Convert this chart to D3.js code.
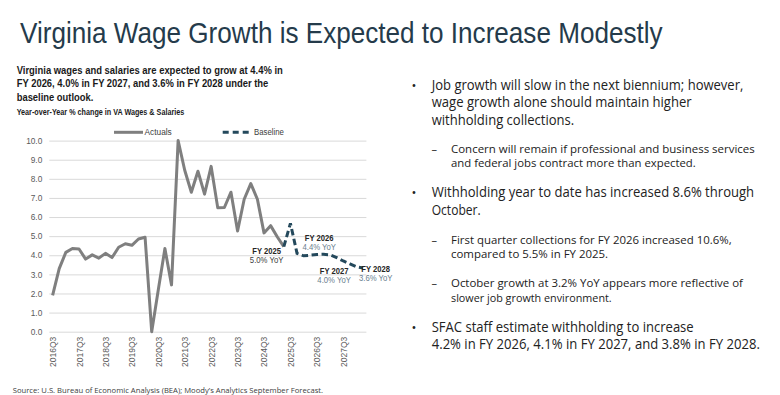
<!DOCTYPE html>
<html>
<head>
<meta charset="utf-8">
<script src="https://cdn.jsdelivr.net/npm/d3@7"></script>
<style>
  html, body { margin: 0; padding: 0; background: #fff; }
  svg { display: block; }
</style>
</head>
<body>
<svg id="chart" width="780" height="395"></svg>
<script>
// ---------------- DATA ----------------
const quarters = [
  "2016Q3","2016Q4","2017Q1","2017Q2","2017Q3","2017Q4","2018Q1","2018Q2",
  "2018Q3","2018Q4","2019Q1","2019Q2","2019Q3","2019Q4","2020Q1","2020Q2",
  "2020Q3","2020Q4","2021Q1","2021Q2","2021Q3","2021Q4","2022Q1","2022Q2",
  "2022Q3","2022Q4","2023Q1","2023Q2","2023Q3","2023Q4","2024Q1","2024Q2",
  "2024Q3","2024Q4","2025Q1","2025Q2","2025Q3","2025Q4","2026Q1","2026Q2",
  "2026Q3","2026Q4","2027Q1","2027Q2","2027Q3","2027Q4","2028Q1","2028Q2"
];
// Actuals: 2016Q3 .. 2025Q2
const actualQuarters = quarters.slice(0, 36);
const actualValues = [
  1.9, 3.3, 4.15, 4.35, 4.33, 3.8, 4.02, 3.85,
  4.1, 3.88, 4.42, 4.6, 4.52, 4.85, 4.94, 0.0,
  2.2, 4.35, 2.45, 10.0, 8.45, 7.3, 8.4, 7.2,
  8.65, 6.48, 6.5, 7.3, 5.27, 6.93, 7.75, 6.93,
  5.17, 5.55, 4.97, 4.45
];
// Baseline forecast: 2025Q2 .. 2028Q2
const baselineQuarters = quarters.slice(35);
const baselineValues = [
  4.45, 5.67, 4.1, 3.97, 4.0, 4.04, 4.05, 4.02, 3.88, 3.7, 3.55, 3.4, 3.33
];
const yTicks = [0,1,2,3,4,5,6,7,8,9,10];
const xTickLabels = ["2016Q3","2017Q3","2018Q3","2019Q3","2020Q3","2021Q3",
  "2022Q3","2023Q3","2024Q3","2025Q3","2026Q3","2027Q3"];
const annotations = [
  {fy: "FY 2025", yoy: "5.0% YoY", muted: false},
  {fy: "FY 2026", yoy: "4.4% YoY", muted: true},
  {fy: "FY 2027", yoy: "4.0% YoY", muted: true},
  {fy: "FY 2028", yoy: "3.6% YoY", muted: true}
];
const legendItems = ["Actuals", "Baseline"];

const titleText = "Virginia Wage Growth is Expected to Increase Modestly";
const subtitleLines = [
  "Virginia wages and salaries are expected to grow at 4.4% in",
  "FY 2026, 4.0% in FY 2027, and 3.6% in FY 2028 under the",
  "baseline outlook."
];
const axisTitle = "Year-over-Year % change in VA Wages & Salaries";
const sourceText = "Source: U.S. Bureau of Economic Analysis (BEA); Moody\u2019s Analytics September Forecast.";
const bullets = [
  {level: 1, lines: ["Job growth will slow in the next biennium; however,",
                     "wage growth alone should maintain higher",
                     "withholding collections."]},
  {level: 2, lines: ["Concern will remain if professional and business services",
                     "and federal jobs contract more than expected."]},
  {level: 1, lines: ["Withholding year to date has increased 8.6% through",
                     "October."]},
  {level: 2, lines: ["First quarter collections for FY 2026 increased 10.6%,",
                     "compared to 5.5% in FY 2025."]},
  {level: 2, lines: ["October growth at 3.2% YoY appears more reflective of",
                     "slower job growth environment."]},
  {level: 1, lines: ["SFAC staff estimate withholding to increase",
                     "4.2% in FY 2026, 4.1% in FY 2027, and 3.8% in FY 2028."]}
];

// ---------------- LAYOUT ----------------
const svg = d3.select("#chart");
const ARIAL = "'Liberation Sans', Arial, sans-serif";
const OPEN = "'Open Sans', 'Noto Sans', sans-serif";

svg.append("rect").attr("width", 780).attr("height", 395).attr("fill", "#fff");

// text helper: if a target width is given, the text is scaled horizontally to fit it
function txt(s, x, y, o) {
  const t = svg.append("text")
    .attr("x", 0).attr("y", 0)
    .attr("font-family", o.family || ARIAL)
    .attr("font-size", o.size)
    .attr("font-weight", o.weight || "normal")
    .attr("fill", o.fill || "#262626")
    .attr("text-anchor", o.anchor || "start")
    .text(s);
  let k = 1;
  if (o.width) {
    const len = t.node().getComputedTextLength();
    if (len > 0) k = o.width / len;
  }
  t.attr("transform", `translate(${x},${y}) scale(${k},1)`);
  return t;
}

// Title
txt(titleText, 20, 43, {size: 29, fill: "#253b4b", width: 643});

// Chart subtitle
const subW = [266.7, 251.7, 76.7];
const subY = [73.5, 87.3, 100.8];
subtitleLines.forEach((l, i) => txt(l, 16.7, subY[i], {size: 10.5, weight: "bold", fill: "#1a1a1a", width: subW[i]}));
txt(axisTitle, 16.7, 114.5, {size: 8.3, weight: "bold", fill: "#1a1a1a", width: 167.7});

// Scales
const x = d3.scalePoint().domain(quarters).range([49.3, 366.4]).padding(0.5);
const y = d3.scaleLinear().domain([0, 10]).range([331.7, 140.6]);

// Y axis with gridlines
const yAxis = svg.append("g")
  .attr("transform", "translate(49.3,0)")
  .call(d3.axisLeft(y).tickValues(yTicks).tickFormat(d3.format(".1f"))
        .tickSize(-(366.4 - 49.3)).tickPadding(7));
yAxis.select(".domain").remove();
yAxis.selectAll(".tick line").attr("stroke", "#d9d9d9").attr("stroke-width", 1);
yAxis.selectAll(".tick text").attr("font-family", ARIAL).attr("font-size", 8.3).attr("fill", "#595959");

// X axis labels
const xAxis = svg.append("g")
  .attr("transform", `translate(0,${y(0)})`)
  .call(d3.axisBottom(x).tickValues(xTickLabels).tickSize(0));
xAxis.select(".domain").remove();
xAxis.selectAll(".tick text")
  .attr("font-family", ARIAL).attr("font-size", 8.5).attr("fill", "#595959")
  .attr("transform", "rotate(-90)")
  .attr("text-anchor", "end")
  .attr("x", -5).attr("y", 0).attr("dy", "0.35em");

// Lines
const lineGen = d3.line().x(d => x(d[0])).y(d => y(d[1]));
svg.append("path")
  .datum(actualQuarters.map((q, i) => [q, actualValues[i]]))
  .attr("d", lineGen)
  .attr("fill", "none").attr("stroke", "#7f7f7f").attr("stroke-width", 3)
  .attr("stroke-linejoin", "round");
svg.append("path")
  .datum(baselineQuarters.map((q, i) => [q, baselineValues[i]]))
  .attr("d", lineGen)
  .attr("fill", "none").attr("stroke", "#24495c").attr("stroke-width", 3)
  .attr("stroke-dasharray", "6.5,3.5");

// Legend
svg.append("line").attr("x1", 114).attr("x2", 143).attr("y1", 132.3).attr("y2", 132.3)
  .attr("stroke", "#7f7f7f").attr("stroke-width", 3);
txt(legendItems[0], 144.5, 135.3, {size: 9, fill: "#404040", width: 27.3});
svg.append("line").attr("x1", 222.7).attr("x2", 249.5).attr("y1", 132.3).attr("y2", 132.3)
  .attr("stroke", "#24495c").attr("stroke-width", 3).attr("stroke-dasharray", "6,4");
txt(legendItems[1], 254, 135.3, {size: 9, fill: "#404040", width: 30});

// Annotations
const annPos = [
  {cx: 266.6, fyY: 254, yoyY: 263.3},
  {cx: 319.2, fyY: 240.7, yoyY: 250},
  {cx: 334.1, fyY: 274.3, yoyY: 283.3},
  {cx: 375.7, fyY: 272, yoyY: 281}
];
annotations.forEach((a, i) => {
  const p = annPos[i];
  txt(a.fy, p.cx, p.fyY, {size: 8.2, weight: "bold", fill: "#262626", anchor: "middle", width: 28.7});
  txt(a.yoy, p.cx, p.yoyY, {size: 8.2, fill: a.muted ? "#6a7e8e" : "#404040", anchor: "middle", width: 33.5});
});

// Source
txt(sourceText, 12.7, 393, {size: 8, family: OPEN, fill: "#404040", width: 310.7});

// Right-hand bullets
const bulletLayout = [
  {ys: [89.8, 107.3, 125], ws: [311.7, 260, 142.7]},
  {ys: [152.7, 166.7], ws: [304, 245]},
  {ys: [197.3, 215], ws: [322.7, 49]},
  {ys: [244, 258.3], ws: [280.7, 157.3]},
  {ys: [286.7, 301.7], ws: [292.3, 160.7]},
  {ys: [332.3, 349], ws: [262.3, 328.3]}
];
bullets.forEach((b, i) => {
  const L = bulletLayout[i];
  if (b.level === 1) {
    txt("\u2022", 411.5, L.ys[0], {size: 13, family: OPEN, fill: "#222"});
    b.lines.forEach((l, j) => txt(l, 431.7, L.ys[j], {size: 14.8, family: OPEN, fill: "#222", width: L.ws[j]}));
  } else {
    txt("\u2013", 431.5, L.ys[0], {size: 11, family: OPEN, fill: "#222"});
    b.lines.forEach((l, j) => txt(l, 451, L.ys[j], {size: 11.3, family: OPEN, fill: "#222", width: L.ws[j]}));
  }
});
</script>
</body>
</html>
